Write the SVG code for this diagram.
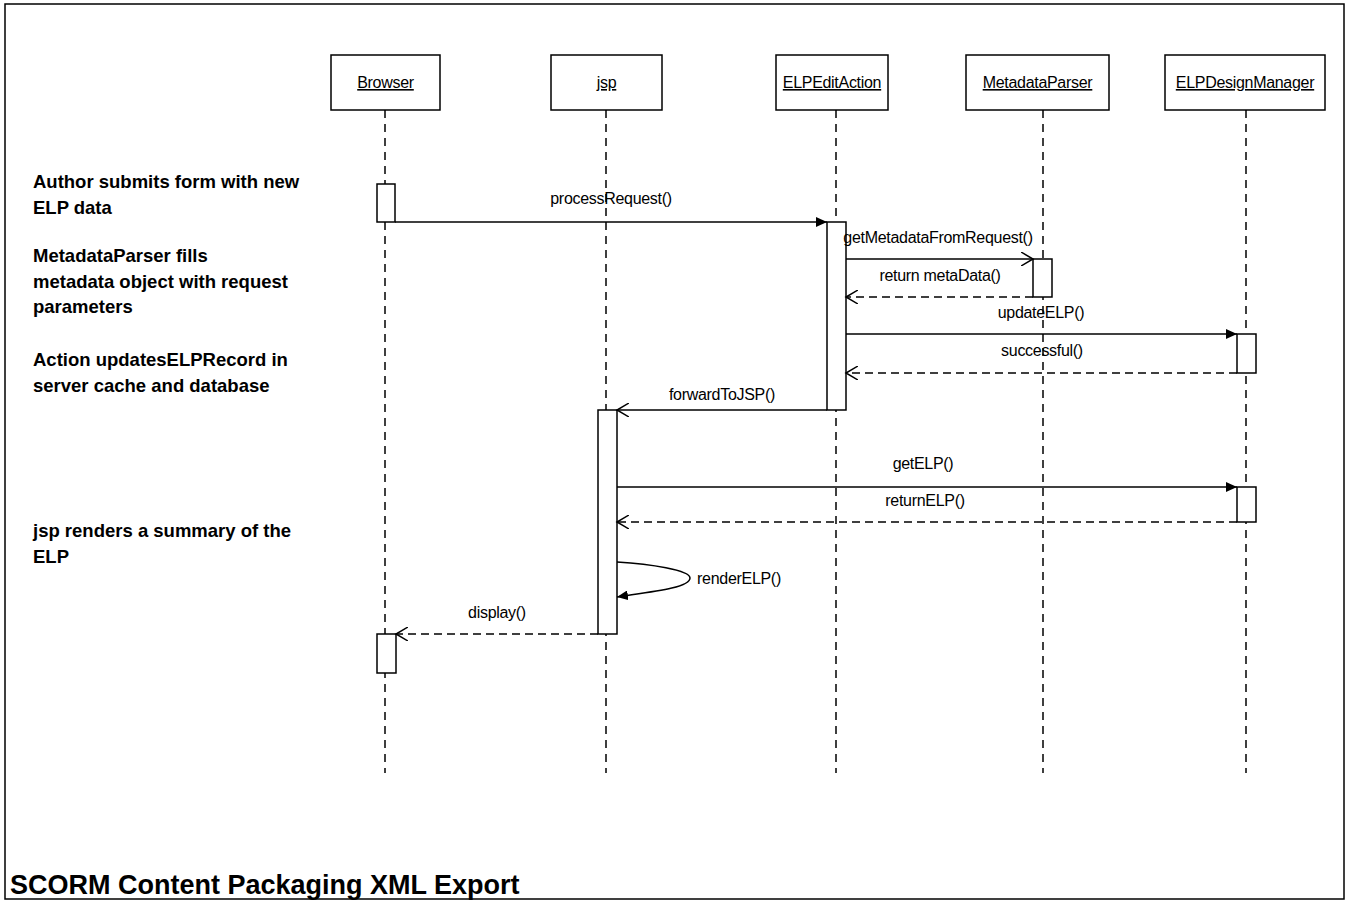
<svg xmlns="http://www.w3.org/2000/svg" width="1351" height="901" viewBox="0 0 1351 901">
<style>
.frame{fill:none;stroke:#000;stroke-width:1.5}
.box{fill:#fff;stroke:#000;stroke-width:1.5}
.act{fill:#fff;stroke:#000;stroke-width:1.5}
.life{stroke:#000;stroke-width:1.5;stroke-dasharray:8 6;fill:none}
.msg{stroke:#000;stroke-width:1.5;fill:none}
.ret{stroke:#000;stroke-width:1.5;fill:none;stroke-dasharray:8 5}
.lbl{font-family:"Liberation Sans",Arial,sans-serif;font-size:16px;letter-spacing:-0.3px;fill:#000;text-anchor:middle}
.name{font-family:"Liberation Sans",Arial,sans-serif;font-size:16px;letter-spacing:-0.3px;fill:#000;text-anchor:middle;text-decoration:underline}
.note{font-family:"Liberation Sans",Arial,sans-serif;font-size:18.5px;font-weight:bold;fill:#000}
.title{font-family:"Liberation Sans",Arial,sans-serif;font-size:27px;font-weight:bold;fill:#000}
</style>
<defs>
<marker id="filled" markerWidth="12" markerHeight="10" refX="11" refY="5" orient="auto" markerUnits="userSpaceOnUse">
<path d="M0,0 L11,5 L0,10 Z" fill="#000"/>
</marker>
<marker id="open" markerWidth="14" markerHeight="14" refX="12" refY="7" orient="auto" markerUnits="userSpaceOnUse">
<path d="M0,0 L12,7 L0,14" fill="none" stroke="#000" stroke-width="1.5"/>
</marker>
</defs>
<rect x="0" y="0" width="1351" height="901" fill="#fff"/>
<rect class="frame" x="5" y="4" width="1339" height="895"/>

<g id="lifelines">
<line class="life" x1="385" y1="110" x2="385" y2="773"/>
<line class="life" x1="606" y1="110" x2="606" y2="773"/>
<line class="life" x1="836" y1="110" x2="836" y2="773"/>
<line class="life" x1="1043" y1="110" x2="1043" y2="773"/>
<line class="life" x1="1246" y1="110" x2="1246" y2="773"/>
</g>

<g id="node-browser">
<rect class="box" x="331" y="55" width="109" height="55"/>
<text class="name" x="385.5" y="88">Browser</text>
</g>
<g id="node-jsp">
<rect class="box" x="551" y="55" width="111" height="55"/>
<text class="name" x="606.5" y="88">jsp</text>
</g>
<g id="node-elpeditaction">
<rect class="box" x="776" y="55" width="112" height="55"/>
<text class="name" x="832" y="88">ELPEditAction</text>
</g>
<g id="node-metadataparser">
<rect class="box" x="966" y="55" width="143" height="55"/>
<text class="name" x="1037.5" y="88">MetadataParser</text>
</g>
<g id="node-elpdesignmanager">
<rect class="box" x="1165" y="55" width="160" height="55"/>
<text class="name" x="1245" y="88">ELPDesignManager</text>
</g>

<g id="activations">
<rect class="act" x="377" y="184" width="18" height="38"/>
<rect class="act" x="827" y="222" width="19" height="188"/>
<rect class="act" x="1033" y="259" width="19" height="38"/>
<rect class="act" x="1237" y="334" width="19" height="39"/>
<rect class="act" x="598" y="410" width="19" height="224"/>
<rect class="act" x="1237" y="487" width="19" height="35"/>
<rect class="act" x="377" y="634" width="19" height="39"/>
</g>

<g id="connectors">
<line class="msg" x1="395" y1="222" x2="827" y2="222" marker-end="url(#filled)"/>
<text class="lbl" x="611" y="204">processRequest()</text>

<line class="msg" x1="846" y1="259" x2="1033" y2="259" marker-end="url(#open)"/>
<text class="lbl" x="938" y="243">getMetadataFromRequest()</text>

<line class="ret" x1="1033" y1="297" x2="846" y2="297" marker-end="url(#open)"/>
<text class="lbl" x="940" y="281">return metaData()</text>

<line class="msg" x1="846" y1="334" x2="1237" y2="334" marker-end="url(#filled)"/>
<text class="lbl" x="1041" y="318">updateELP()</text>

<line class="ret" x1="1237" y1="373" x2="846" y2="373" marker-end="url(#open)"/>
<text class="lbl" x="1042" y="356">successful()</text>

<line class="msg" x1="827" y1="410" x2="617" y2="410" marker-end="url(#open)"/>
<text class="lbl" x="722" y="400">forwardToJSP()</text>

<line class="msg" x1="617" y1="487" x2="1237" y2="487" marker-end="url(#filled)"/>
<text class="lbl" x="923" y="469">getELP()</text>

<line class="ret" x1="1237" y1="522" x2="617" y2="522" marker-end="url(#open)"/>
<text class="lbl" x="925" y="506">returnELP()</text>

<path class="msg" d="M617,562 C650,564 690,570 690,578 C690,588 650,592 617,597" marker-end="url(#filled)"/>
<text class="lbl" x="739" y="584">renderELP()</text>

<line class="ret" x1="598" y1="634" x2="396" y2="634" marker-end="url(#open)"/>
<text class="lbl" x="497" y="618">display()</text>
</g>

<g id="notes">
<text class="note" x="33" y="188">Author submits form with new</text>
<text class="note" x="33" y="214">ELP data</text>
<text class="note" x="33" y="262">MetadataParser fills</text>
<text class="note" x="33" y="288">metadata object with request</text>
<text class="note" x="33" y="313">parameters</text>
<text class="note" x="33" y="366">Action updatesELPRecord in</text>
<text class="note" x="33" y="392">server cache and database</text>
<text class="note" x="33" y="537">jsp renders a summary of the</text>
<text class="note" x="33" y="563">ELP</text>
</g>

<text class="title" x="10" y="894">SCORM Content Packaging XML Export</text>
</svg>
